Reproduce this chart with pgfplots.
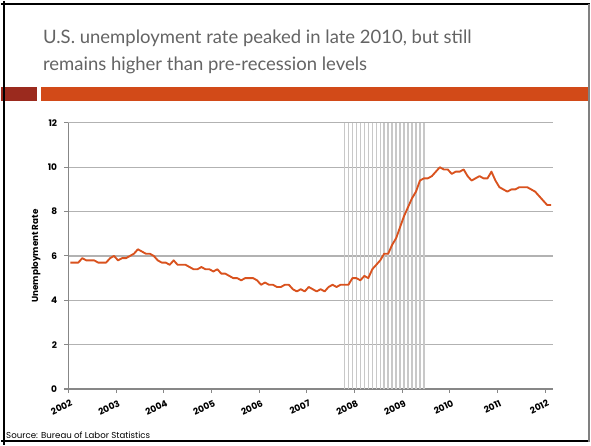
\documentclass[border=0pt]{standalone}
\usepackage{fontspec}
\setmainfont{Lato}
\newfontfamily\titlefont{Lato}
\newfontfamily\chartfont{Poppins}
\usepackage{pgfplots}
\usepackage{pgfplotstable}
\pgfplotsset{compat=1.18}
\definecolor{titlegray}{RGB}{100,100,100}
\definecolor{barred}{RGB}{155,42,30}
\definecolor{barorange}{RGB}{210,74,24}
\definecolor{lineorange}{RGB}{217,82,30}
\definecolor{recgray}{RGB}{200,200,200}
\definecolor{gridgray}{RGB}{178,178,178}
\definecolor{axgray}{RGB}{135,135,135}

\pgfplotstableread{
rate
5.7
5.7
5.7
5.9
5.8
5.8
5.8
5.7
5.7
5.7
5.9
6.0
5.8
5.9
5.9
6.0
6.1
6.3
6.2
6.1
6.1
6.0
5.8
5.7
5.7
5.6
5.8
5.6
5.6
5.6
5.5
5.4
5.4
5.5
5.4
5.4
5.3
5.4
5.2
5.2
5.1
5.0
5.0
4.9
5.0
5.0
5.0
4.9
4.7
4.8
4.7
4.7
4.6
4.6
4.7
4.7
4.5
4.4
4.5
4.4
4.6
4.5
4.4
4.5
4.4
4.6
4.7
4.6
4.7
4.7
4.7
5.0
5.0
4.9
5.1
5.0
5.4
5.6
5.8
6.1
6.1
6.5
6.8
7.3
7.8
8.2
8.6
8.9
9.4
9.5
9.5
9.6
9.8
10.0
9.9
9.9
9.7
9.8
9.8
9.9
9.6
9.4
9.5
9.6
9.5
9.5
9.8
9.4
9.1
9.0
8.9
9.0
9.0
9.1
9.1
9.1
9.0
8.9
8.7
8.5
8.3
8.3
}\ratetable

\begin{document}
\begin{tikzpicture}
\begin{scope}[x=0.75pt,y=-0.75pt]
\fill[white] (0,0) rectangle (591,445);
\fill[barred] (0,86) rectangle (35.7,100.7);
\fill[barorange] (40,86) rectangle (591,100.7);
\draw[black, line width=1.5pt] (0,3.5) -- (591,3.5);
\draw[black, line width=1.5pt] (0,441.5) -- (591,441.5);
\draw[black, line width=1.5pt] (3.3,0) -- (3.3,445);
\draw[gray, line width=0.8pt] (590,3) -- (590,442);
\node[anchor=base west, inner sep=0, text=titlegray, font=\titlefont\fontsize{13.9}{16}\selectfont] at (42,43) {U.S. unemployment rate peaked in late 2010, but still};
\node[anchor=base west, inner sep=0, text=titlegray, font=\titlefont\fontsize{13.9}{16}\selectfont] at (42,70) {remains higher than pre-recession levels};
\node[anchor=base west, inner sep=0, font=\chartfont\fontsize{6.5}{7}\selectfont] at (5,439) {Source: Bureau of Labor Statistics};
\end{scope}
\begin{axis}[
  at={(50.775pt,-291.975pt)}, anchor=south west,
  scale only axis, width=364.725pt, height=200.25pt,
  xmin=2002, xmax=2012.167, ymin=0, ymax=12,
  xtick={2002,2003,...,2012}, ytick={0,2,...,12},
  axis lines=left, axis line style={-, draw=axgray, line width=0.8pt},
  ymajorgrids, grid style={gridgray, line width=0.9pt},
  tick align=outside, major tick length=3pt,
  tick style={axgray, line width=0.8pt},
  /pgf/number format/assume math mode=true,
  /pgf/number format/1000 sep={},
  ticklabel style={font=\chartfont\bfseries\fontsize{6.8}{8}\selectfont},
  xticklabel style={rotate=25, anchor=north east, xshift=2.5pt, yshift=-1.5pt},
  yticklabel style={xshift=-2pt},
  ylabel={Unemployment Rate},
  ylabel style={at={(axis description cs:-0.067,0.5)}, anchor=center, font=\chartfont\bfseries\fontsize{6.6}{8}\selectfont},
  clip=false,
]
\addplot[ycomb, recgray, line width=1.1pt, mark=none] coordinates {
(2007.790,12) (2007.873,12) (2007.957,12) (2008.040,12) (2008.123,12) (2008.207,12) (2008.290,12)
(2008.373,12) (2008.457,12) (2008.540,12) (2008.623,12) (2008.707,12) (2008.790,12) (2008.873,12)
(2008.957,12) (2009.040,12) (2009.123,12) (2009.207,12) (2009.290,12) (2009.373,12) (2009.457,12)
};
\addplot[lineorange, line width=1.4pt, mark=none, line join=round] table[x expr=2002.04+\coordindex/12, y=rate] {\ratetable};
\end{axis}
\end{tikzpicture}
\end{document}
